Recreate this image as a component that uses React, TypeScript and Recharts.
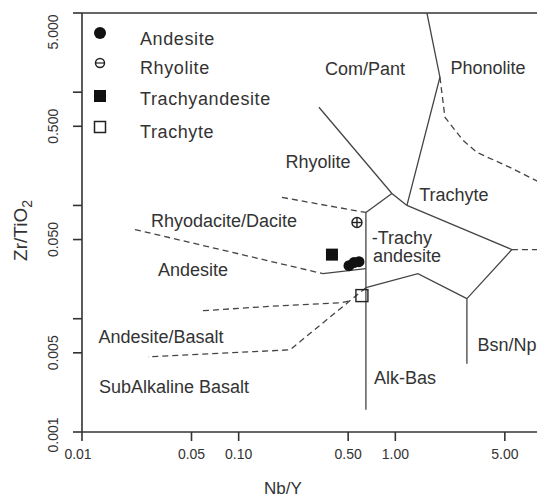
import { ScatterChart, Scatter, XAxis, YAxis, ReferenceLine, Legend } from "recharts";

// samples (Nb/Y vs Zr/TiO2)
const andesite = [
  { x: 0.506, y: 0.0294 },
  { x: 0.544, y: 0.0313 },
  { x: 0.586, y: 0.0319 },
];
const rhyolite = [{ x: 0.569, y: 0.0707 }];
const trachyandesite = [{ x: 0.394, y: 0.0368 }];
const trachyte = [{ x: 0.612, y: 0.016 }];

// field boundaries
const phonoliteEdge = [
  { x: 1.591, y: 5 },
  { x: 1.926, y: 1.357 },
  { x: 1.186, y: 0.1 },
];
const comPantEdge = [
  { x: 0.3254, y: 0.7366 },
  { x: 0.951, y: 0.1277 },
  { x: 1.186, y: 0.1 },
];
const rhyoliteBase = [
  { x: 0.951, y: 0.1277 },
  { x: 0.649, y: 0.0867 },
];
const alkBasEdge = [
  { x: 0.649, y: 0.0867 },
  { x: 0.649, y: 0.00157 },
];
const trachyteBase = [
  { x: 1.186, y: 0.1 },
  { x: 5.548, y: 0.0408 },
];
const trachyteRight = [
  { x: 5.548, y: 0.0408 },
  { x: 10, y: 0.0408 },
];
const bsnEdge = [
  { x: 5.548, y: 0.0408 },
  { x: 2.863, y: 0.01503 },
  { x: 2.863, y: 0.004 },
];
const trachyAndBase = [
  { x: 2.863, y: 0.01503 },
  { x: 1.394, y: 0.025 },
  { x: 0.649, y: 0.0188 },
];
const subAlkEdge = [
  { x: 0.649, y: 0.0188 },
  { x: 0.2125, y: 0.00531 },
  { x: 0.02638, y: 0.00461 },
];
const andBasEdge = [
  { x: 0.0592, y: 0.01177 },
  { x: 0.1835, y: 0.01303 },
  { x: 0.456, y: 0.01385 },
  { x: 0.5132, y: 0.01443 },
];
const andesiteTopDashed = [
  { x: 0.02179, y: 0.0613 },
  { x: 0.345, y: 0.025 },
];
const andesiteTopSolid = [
  { x: 0.345, y: 0.025 },
  { x: 0.649, y: 0.0277 },
];
const rhyodaciteTop = [
  { x: 0.189, y: 0.1177 },
  { x: 0.649, y: 0.0867 },
];
const phonoliteDashed = [
  { x: 1.926, y: 1.357 },
  { x: 2.073, y: 0.601 },
  { x: 2.701, y: 0.376 },
  { x: 3.317, y: 0.294 },
  { x: 5.387, y: 0.2169 },
  { x: 10, y: 0.1413 },
];

const solidLines = [phonoliteEdge, comPantEdge, rhyoliteBase, alkBasEdge, trachyteBase, bsnEdge, trachyAndBase, andesiteTopSolid];
const dashedLines = [trachyteRight, subAlkEdge, andBasEdge, andesiteTopDashed, rhyodaciteTop, phonoliteDashed];

// field names
const fieldLabels = [
  { x: 0.64, y: 1.597, text: "Com/Pant" },
  { x: 3.9, y: 1.63, text: "Phonolite" },
  { x: 0.3207, y: 0.24, text: "Rhyolite" },
  { x: 2.366, y: 0.1226, text: "Trachyte" },
  { x: 0.0806, y: 0.0736, text: "Rhyodacite/Dacite" },
  { x: 1.102, y: 0.0521, text: "-Trachy" },
  { x: 1.186, y: 0.0361, text: "andesite" },
  { x: 0.0511, y: 0.0271, text: "Andesite" },
  { x: 0.0319, y: 0.00693, text: "Andesite/Basalt" },
  { x: 0.0387, y: 0.0025, text: "SubAlkaline Basalt" },
  { x: 1.151, y: 0.003, text: "Alk-Bas" },
];
const leftLabels = [{ x: 3.35, y: 0.00589, text: "Bsn/Nph" }];

const xTicks = [0.01, 0.05, 0.1, 0.5, 1, 5];
const xTickLabels = ["0.01", "0.05", "0.10", "0.50", "1.00", "5.00"];
const yTicks = [0.001, 0.005, 0.01, 0.05, 0.1, 0.5, 1, 5];
const yTickLabels = ["0.001", "0.005", "", "0.050", "", "0.500", "", "5.000"];

const legendNames = ["Andesite", "Rhyolite", "Trachyandesite", "Trachyte"];

const INK = "#444";
const TEXT = "#333";

function XTick(props: any) {
  const { x, y, payload } = props;
  const i = xTicks.indexOf(payload.value);
  // first label sits a little left of its tick, clear of the y labels
  const dx = i === 0 ? -4 : 0;
  return (
    <text x={x + dx} y={y + 18} textAnchor="middle" fontSize={14} fill={TEXT}>
      {xTickLabels[i] ?? ""}
    </text>
  );
}

function YTick(props: any) {
  const { x, y, payload } = props;
  const i = yTicks.indexOf(payload.value);
  const tx = x - 15;
  // end labels are nudged inward so they stay on the canvas
  const ty = i === yTicks.length - 1 ? y + 15 : i === 0 ? y + 3 : y;
  return (
    <text x={tx} y={ty} transform={`rotate(-90, ${tx}, ${ty})`} textAnchor="middle" fontSize={14} fill={TEXT}>
      {yTickLabels[i] ?? ""}
    </text>
  );
}

function XTitle(props: any) {
  const vb = props.viewBox;
  return (
    <text x={vb.x + 201} y={vb.y + 62} textAnchor="middle" fontSize={17} fill={TEXT}>
      Nb/Y
    </text>
  );
}

function YTitle(props: any) {
  const vb = props.viewBox;
  const tx = vb.x + 19;
  const ty = vb.y + vb.height / 2 + 8;
  return (
    <text x={tx} y={ty} transform={`rotate(-90, ${tx}, ${ty})`} textAnchor="middle" fontSize={19} fill={TEXT}>
      Zr/TiO
      <tspan fontSize={14} dy={5}>2</tspan>
    </text>
  );
}

function LegendBox() {
  const markerY = [10, 40, 73, 104];
  const textY = [16, 45, 76, 109];
  return (
    <svg width={200} height={125}>
      <circle cx={10} cy={markerY[0]} r={6} fill="#111" />
      <circle cx={10} cy={markerY[1]} r={4.5} fill="none" stroke="#222" strokeWidth={1.5} />
      <line x1={5.5} x2={14.5} y1={markerY[1]} y2={markerY[1]} stroke="#222" strokeWidth={1.2} />
      <rect x={4} y={markerY[2] - 6} width={12} height={12} fill="#111" />
      <rect x={4.5} y={markerY[3] - 5.5} width={11} height={11} fill="none" stroke="#222" strokeWidth={1.5} />
      {legendNames.map((n, i) => (
        <text key={n} x={50} y={textY[i]} dominantBaseline="central" fontSize={18} letterSpacing={0.6} fill={TEXT}>
          {n}
        </text>
      ))}
    </svg>
  );
}

const noShape = () => <g />;

export default function App() {
  return (
    <div style={{ width: 537, height: 493, overflow: "hidden", fontFamily: "'Liberation Sans', Arial, sans-serif" }}>
      <ScatterChart width={544} height={493} margin={{ top: 5, right: 0, left: 0, bottom: 0 }}>
        <XAxis
          type="number"
          dataKey="x"
          scale="log"
          domain={[0.01, 10]}
          ticks={xTicks}
          allowDataOverflow
          height={69}
          tickSize={9}
          tickMargin={0}
          stroke="#333"
          strokeWidth={1.6}
          tick={<XTick />}
          label={<XTitle />}
        />
        <YAxis
          type="number"
          dataKey="y"
          scale="log"
          domain={[0.001, 5]}
          ticks={yTicks}
          allowDataOverflow
          width={74}
          tickSize={9}
          tickMargin={0}
          stroke="#333"
          strokeWidth={1.6}
          tick={<YTick />}
          label={<YTitle />}
        />
        <ReferenceLine y={5} stroke="#333" strokeWidth={1.6} />
        {solidLines.map((pts, i) => (
          <Scatter
            key={`s${i}`}
            data={pts}
            line={{ stroke: INK, strokeWidth: 1.3 }}
            shape={noShape}
            legendType="none"
            isAnimationActive={false}
          />
        ))}
        {dashedLines.map((pts, i) => (
          <Scatter
            key={`d${i}`}
            data={pts}
            line={{ stroke: INK, strokeWidth: 1.3, strokeDasharray: "6 4" }}
            shape={noShape}
            legendType="none"
            isAnimationActive={false}
          />
        ))}
        <Scatter
          data={andesite}
          shape={(p: any) => <circle cx={p.cx} cy={p.cy} r={5.5} fill="#111" />}
          legendType="none"
          isAnimationActive={false}
        />
        <Scatter
          data={rhyolite}
          shape={(p: any) => (
            <g stroke="#222" strokeWidth={1.4} fill="none">
              <circle cx={p.cx} cy={p.cy} r={5} />
              <line x1={p.cx - 5} x2={p.cx + 5} y1={p.cy} y2={p.cy} />
              <line x1={p.cx} x2={p.cx} y1={p.cy - 5} y2={p.cy + 5} />
            </g>
          )}
          legendType="none"
          isAnimationActive={false}
        />
        <Scatter
          data={trachyandesite}
          shape={(p: any) => <rect x={p.cx - 6} y={p.cy - 6} width={12} height={12} fill="#111" />}
          legendType="none"
          isAnimationActive={false}
        />
        <Scatter
          data={trachyte}
          shape={(p: any) => (
            <rect x={p.cx - 6} y={p.cy - 6} width={12} height={12} fill="none" stroke="#222" strokeWidth={1.4} />
          )}
          legendType="none"
          isAnimationActive={false}
        />
        <Scatter
          data={fieldLabels}
          shape={(p: any) => (
            <text x={p.cx} y={p.cy} textAnchor="middle" dominantBaseline="central" fontSize={18} fill={TEXT}>
              {p.payload.text}
            </text>
          )}
          legendType="none"
          isAnimationActive={false}
        />
        <Scatter
          data={leftLabels}
          shape={(p: any) => (
            <text x={p.cx} y={p.cy} textAnchor="start" dominantBaseline="central" fontSize={18} fill={TEXT}>
              {p.payload.text}
            </text>
          )}
          legendType="none"
          isAnimationActive={false}
        />
        <Legend
          layout="horizontal"
          verticalAlign="middle"
          align="center"
          content={<LegendBox />}
          wrapperStyle={{ left: 82, top: 15, width: 200, height: 125 }}
        />
      </ScatterChart>
    </div>
  );
}
